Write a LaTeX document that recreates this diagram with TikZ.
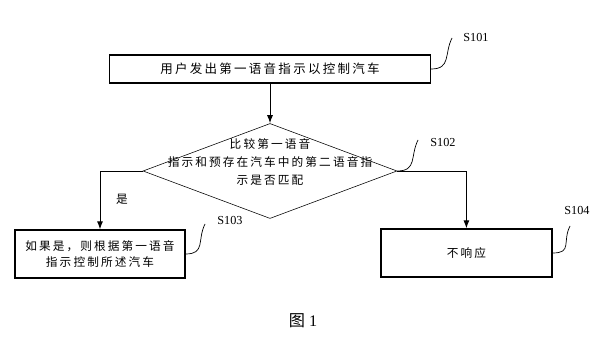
\documentclass[tikz,border=0pt]{standalone}
\usepackage{fontspec}
\setmainfont{Liberation Serif}
\newfontfamily\cjk[LetterSpace=18]{Noto Sans CJK SC}
\usetikzlibrary{arrows.meta,shapes.geometric}

\tikzset{
    stepbox/.style={draw, line width=0.9pt, inner sep=0pt, align=center,
        font={\cjk\fontsize{8.3}{11}\selectfont}},
    decision/.style={draw, shape=diamond, line width=0.4pt, inner sep=0pt,
        minimum width=6.35cm, minimum height=2.375cm},
    flow/.style={->, line width=0.7pt},
    tag/.style={line width=0.5pt},
    steplabel/.style={inner sep=0pt, font=\fontsize{8.7}{10}\selectfont},
}

\begin{document}
\begin{tikzpicture}[>={Latex[length=2mm,width=1.5mm]}]
    \useasboundingbox (0, 0) rectangle (15.325, 8.575);

    % 第一步：发出语音指示
    \node[stepbox, minimum width=8.025cm, minimum height=0.7cm,
        font={\cjk\fontsize{8.9}{11}\selectfont}] (s101) at (6.75, 6.85)
        {用户发出第一语音指示以控制汽车};

    % 判断框 (菱形，文字单独放置)
    \node[decision] (s102) at (6.75, 4.3) {};
    \node[align=center, inner sep=0pt, font={\cjk\fontsize{8.3}{12.5}\selectfont}]
        (s102text) at (6.75, 4.525)
        {比较第一语音\\指示和预存在汽车中的第二语音指\\示是否匹配};

    % 两个分支的结果框
    \node[stepbox, minimum width=4.25cm, minimum height=1.2cm] (s103) at (2.5, 2.225)
        {如果是，则根据第一语音\\指示控制所述汽车};
    \node[stepbox, minimum width=4.275cm, minimum height=1.2cm] (s104) at (11.66, 2.25)
        {不响应};

    % 流程箭头
    \draw[flow] (s101.south) -- (s102.north);
    \draw[flow] (s102.west) -| (s103.north);
    \draw[flow] (s102.east) -| (s104.north);
    \node[inner sep=0pt, font={\cjk\fontsize{8.3}{10}\selectfont}] (yes) at (3.05, 3.6) {是};

    % 步骤编号及引线
    \node[steplabel] (l101) at (11.9, 7.65) {S101};
    \coordinate (t101) at (11.3, 7.625);
    \draw[tag] (s101.east) .. controls +(0.5, 0) and +(-0.2, -0.4) .. (t101);

    \node[steplabel] (l102) at (11.075, 5.025) {S102};
    \coordinate (t102) at (10.45, 5.075);
    \draw[tag] (s102.east) .. controls +(0.5, 0) and +(-0.2, -0.4) .. (t102);

    \node[steplabel] (l103) at (5.75, 3.075) {S103};
    \coordinate (t103) at (5.125, 2.975);
    \draw[tag] (s103.east) .. controls +(0.5, 0) and +(-0.2, -0.4) .. (t103);

    \node[steplabel] (l104) at (14.425, 3.325) {S104};
    \coordinate (t104) at (14.25, 2.925);
    \draw[tag] (s104.east) .. controls +(0.5, 0) and +(-0.2, -0.4) .. (t104);

    % 图号
    \node[inner sep=0pt, font=\fontsize{11.5}{13}\selectfont] (fig) at (7.575, 0.55)
        {{\cjk 图} 1};
\end{tikzpicture}
\end{document}
